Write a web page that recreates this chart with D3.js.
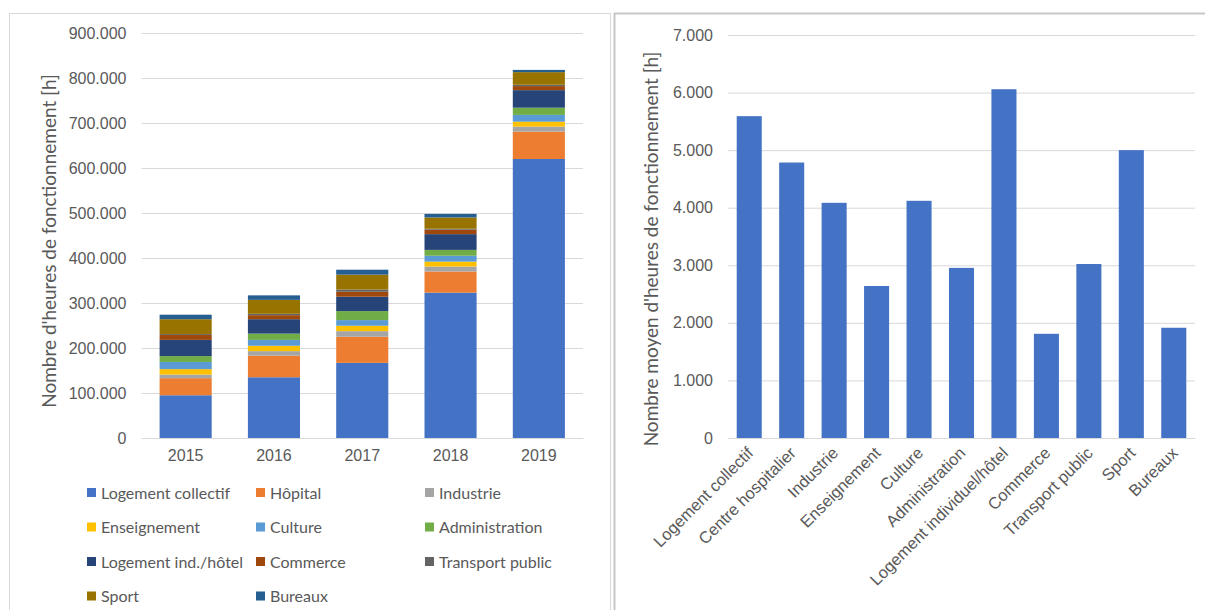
<!DOCTYPE html>
<html>
<head>
<meta charset="utf-8">
<script src="https://cdn.jsdelivr.net/npm/d3@7"></script>
<style>
  body { margin: 0; background: #fff; }
  svg { font-family: Lato, "Open Sans", sans-serif; }
  .tick text { fill: #595959; }
</style>
</head>
<body>
<svg width="1205" height="610"></svg>
<script>
// left chart : heures de fonctionnement par année (empilé)
const years = ["2015", "2016", "2017", "2018", "2019"];
const seriesNames = ["Logement collectif", "Hôpital", "Industrie", "Enseignement", "Culture",
  "Administration", "Logement ind./hôtel", "Commerce", "Transport public", "Sport", "Bureaux"];
const seriesColors = ["#4472C4", "#ED7D31", "#A5A5A5", "#FFC000", "#5B9BD5",
  "#70AD47", "#264478", "#9E480E", "#636363", "#997300", "#255E91"];
// values per series, one per year
const logementCollectif = [95000, 135000, 167000, 323000, 620000];
const hopital = [38000, 48000, 58000, 47000, 61000];
const industrie = [8000, 10000, 12500, 11000, 11000];
const enseignement = [12000, 12000, 12000, 11000, 11000];
const culture = [16000, 13000, 12500, 13000, 15000];
const administration = [13000, 14000, 20000, 13000, 16000];
const logementInd = [36000, 32000, 32000, 35000, 39000];
const commerce = [11000, 9000, 11000, 10000, 9000];
const transportPublic = [2000, 3000, 5000, 2000, 3000];
const sport = [33000, 31000, 33000, 25000, 28000];
const bureaux = [10000, 10000, 11000, 8000, 5000];
const yTicksLeft = [0, 100000, 200000, 300000, 400000, 500000, 600000, 700000, 800000, 900000];

// right chart : nombre moyen d'heures par typologie
const categories = ["Logement collectif", "Centre hospitalier", "Industrie", "Enseignement", "Culture",
  "Administration", "Logement individuel/hôtel", "Commerce", "Transport public", "Sport", "Bureaux"];
const moyennes = [5590, 4785, 4085, 2640, 4120, 2955, 6058, 1810, 3022, 5000, 1915];
const yTicksRight = [0, 1000, 2000, 3000, 4000, 5000, 6000, 7000];

const seriesValues = [logementCollectif, hopital, industrie, enseignement, culture,
  administration, logementInd, commerce, transportPublic, sport, bureaux];

const fr = d3.formatLocale({ decimal: ",", thousands: ".", grouping: [3], currency: ["", " €"] });
const fmt = fr.format(",");

const svg = d3.select("svg");

// panel frames
svg.append("rect").attr("x", 9.5).attr("y", 13.5).attr("width", 601).attr("height", 610)
  .attr("fill", "none").attr("stroke", "#d9d9d9");
svg.append("rect").attr("x", 614.5).attr("y", 13.5).attr("width", 600).attr("height", 610)
  .attr("fill", "none").attr("stroke", "#c8c8c8").attr("stroke-width", 2);

// ---------- left chart ----------
const table = years.map((y, i) => {
  const row = { year: y };
  seriesNames.forEach((s, j) => row[s] = seriesValues[j][i]);
  return row;
});
const stacked = d3.stack().keys(seriesNames)(table);

const xL = d3.scaleBand().domain(years).range([141.5, 583]).paddingInner(0.41).paddingOuter(0.205);
const yL = d3.scaleLinear().domain([0, 900000]).range([438, 33]);

const gL = svg.append("g");

gL.append("g")
  .attr("transform", "translate(141.5,0)")
  .call(d3.axisLeft(yL).tickValues(yTicksLeft).tickFormat(fmt).tickSize(-441.5).tickPadding(15))
  .call(g => g.select(".domain").remove())
  .call(g => g.selectAll(".tick line").attr("stroke", "#d9d9d9"))
  .call(g => g.selectAll(".tick text").attr("font-size", 16));

gL.selectAll("g.serie")
  .data(stacked)
  .enter()
  .append("g")
    .attr("class", "serie")
    .attr("fill", (d, i) => seriesColors[i])
  .selectAll("rect")
  .data(d => d)
  .enter()
  .append("rect")
    .attr("x", d => xL(d.data.year))
    .attr("width", xL.bandwidth())
    .attr("y", d => yL(d[1]))
    .attr("height", d => yL(d[0]) - yL(d[1]));

gL.append("g")
  .attr("transform", "translate(0,438)")
  .call(d3.axisBottom(xL).tickSize(0).tickPadding(12))
  .call(g => g.select(".domain").attr("stroke", "#d9d9d9"))
  .call(g => g.selectAll(".tick text").attr("font-size", 16));

gL.append("text")
  .attr("transform", "translate(56,241) rotate(-90)")
  .attr("text-anchor", "middle")
  .attr("fill", "#595959")
  .attr("font-size", 19)
  .text("Nombre d'heures de fonctionnement [h]");

// legend
const legX = [87, 256, 425];
const legend = gL.selectAll("g.leg")
  .data(seriesNames)
  .enter()
  .append("g")
    .attr("class", "leg")
    .attr("transform", (d, i) => `translate(${legX[i % 3]},${493 + Math.floor(i / 3) * 34.5})`);
legend.append("rect")
  .attr("x", 0).attr("y", -5).attr("width", 9).attr("height", 9)
  .attr("fill", (d, i) => seriesColors[i]);
legend.append("text")
  .attr("x", 14).attr("y", 0).attr("dy", "0.35em")
  .attr("font-size", 16).attr("fill", "#595959")
  .text(d => d);

// ---------- right chart ----------
const xR = d3.scaleBand().domain(categories).range([728, 1195]).paddingInner(0.41).paddingOuter(0.205);
const yR = d3.scaleLinear().domain([0, 7000]).range([438, 35]);

const gR = svg.append("g");

gR.append("g")
  .attr("transform", "translate(728,0)")
  .call(d3.axisLeft(yR).tickValues(yTicksRight).tickFormat(fmt).tickSize(-467).tickPadding(15))
  .call(g => g.select(".domain").remove())
  .call(g => g.selectAll(".tick line").attr("stroke", "#d9d9d9"))
  .call(g => g.selectAll(".tick text").attr("font-size", 16));

gR.selectAll("rect.bar")
  .data(moyennes)
  .enter()
  .append("rect")
    .attr("class", "bar")
    .attr("x", (d, i) => xR(categories[i]))
    .attr("width", xR.bandwidth())
    .attr("y", d => yR(d))
    .attr("height", d => yR(0) - yR(d))
    .attr("fill", "#4472C4");

gR.append("g")
  .attr("transform", "translate(0,438)")
  .call(d3.axisBottom(xR).tickSize(0).tickPadding(0))
  .call(g => g.select(".domain").attr("stroke", "#d9d9d9"))
  .call(g => g.selectAll(".tick text")
    .attr("font-size", 16.5)
    .attr("text-anchor", "end")
    .attr("dy", "0.35em")
    .attr("transform", "translate(1,12) rotate(-45)"));

gR.append("text")
  .attr("transform", "translate(658,249) rotate(-90)")
  .attr("text-anchor", "middle")
  .attr("fill", "#595959")
  .attr("font-size", 19)
  .text("Nombre moyen d'heures de fonctionnement [h]");
</script>
</body>
</html>
